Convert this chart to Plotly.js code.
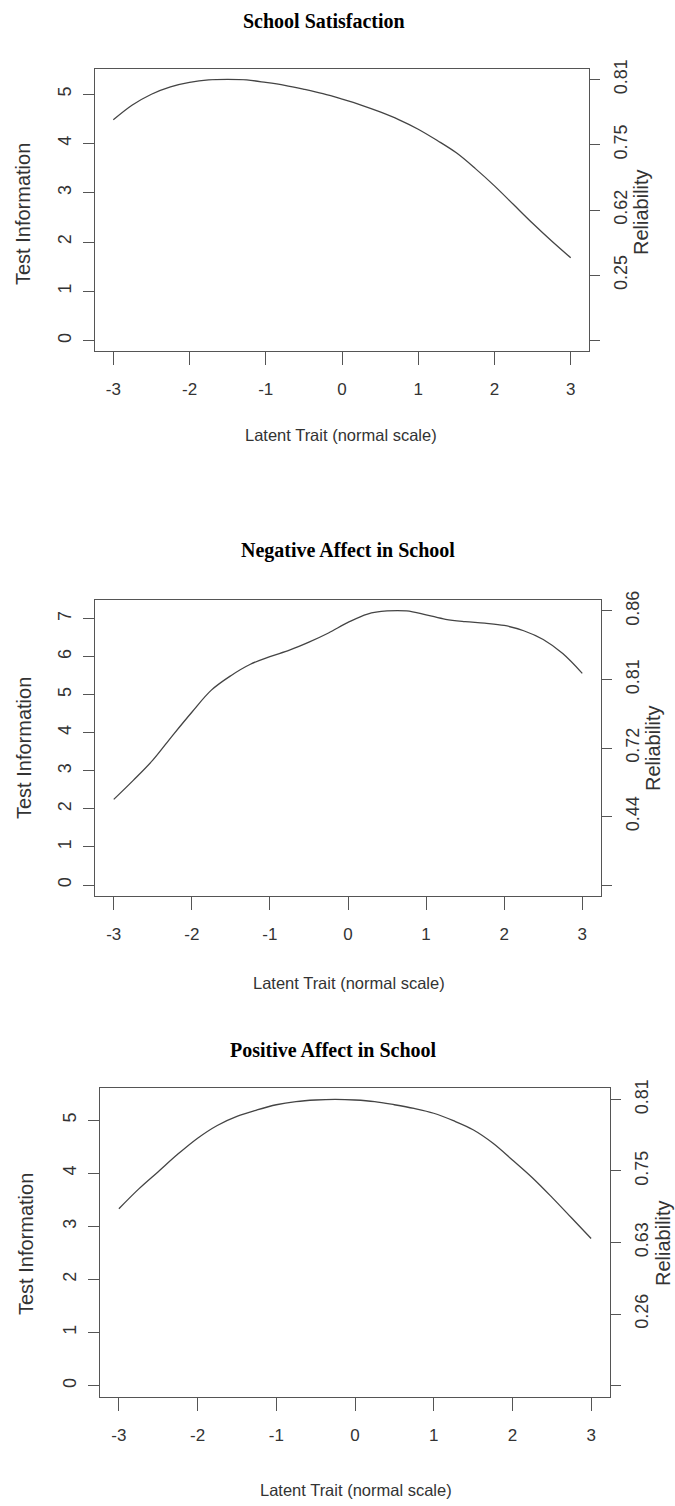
<!DOCTYPE html>
<html><head><meta charset="utf-8">
<script src="https://cdn.plot.ly/plotly-3.0.1.min.js"></script>
<style>html,body{margin:0;padding:0;background:#fff}#chart{width:675px;height:1506px}</style>
</head><body><div id="chart"></div>
<script>
// Latent trait grid
var theta = [-3,-2.75,-2.5,-2.25,-2,-1.75,-1.5,-1.25,-1,-0.75,-0.5,-0.25,0,0.25,0.5,0.75,1,1.25,1.5,1.75,2,2.25,2.5,2.75,3];
// Test information per scale
var infoSatisfaction = [4.48,4.78,5.00,5.15,5.24,5.29,5.30,5.29,5.24,5.18,5.10,5.01,4.90,4.78,4.64,4.48,4.29,4.06,3.81,3.49,3.14,2.76,2.38,2.02,1.68];
var infoNegative = [2.25,2.75,3.28,3.92,4.54,5.12,5.50,5.80,6.00,6.17,6.38,6.62,6.90,7.12,7.20,7.20,7.10,6.98,6.92,6.88,6.82,6.68,6.45,6.08,5.56];
var infoPositive = [3.33,3.70,4.03,4.36,4.66,4.90,5.07,5.19,5.29,5.35,5.38,5.39,5.38,5.35,5.29,5.22,5.13,4.99,4.82,4.57,4.25,3.92,3.55,3.16,2.77];
// Titles and tick labels
var titles = ["School Satisfaction","Negative Affect in School","Positive Affect in School"];
var xTicks = [-3,-2,-1,0,1,2,3];
var relLabels1 = ["","0.25","0.62","0.75","0.81"];
var relLabels2 = ["","0.44","0.72","0.81","0.86"];
var relLabels3 = ["","0.26","0.63","0.75","0.81"];

var W = 675, H = 1506;
var panels = [
  {info: infoSatisfaction, rel: relLabels1, box:[95,589,69,351], title:[324,21], xt:[341,435], yt:[23,214], rt:[641,212]},
  {info: infoNegative, rel: relLabels2, box:[95,601,600,896], title:[348,550], xt:[349,983], yt:[24,748], rt:[653,748]},
  {info: infoPositive, rel: relLabels3, box:[100,610,1088,1397], title:[333,1050], xt:[356,1490], yt:[26,1244], rt:[663,1243]}
];
var fx = function(p){return p/W;};
var fy = function(p){return 1-p/H;};
var sans = "Liberation Sans, Arial, sans-serif";
var serif = "Liberation Serif, Times New Roman, serif";
var txt = "#333";
var ax = "#555";

var data = [], layout = {
  width: W, height: H, margin:{l:0,r:0,t:0,b:0}, showlegend:false,
  paper_bgcolor:"#fff", plot_bgcolor:"#fff", annotations: []
};
panels.forEach(function(p, i){
  var n = i*2+1;
  var xa = i===0 ? "x" : "x"+(i+1);
  var yl = n===1 ? "y" : "y"+n, yr = "y"+(n+1);
  var mx = Math.max.apply(null, p.info);
  var rng = [-0.04*mx, 1.04*mx];
  var rv = [0,1,2,3,4].map(function(k){return mx*k/4;});
  data.push({x: theta, y: p.info, xaxis: xa, yaxis: yl, type:"scatter", mode:"lines",
    line:{color:"#444", width:1.3, shape:"spline", smoothing:1}, hoverinfo:"skip"});
  data.push({x: theta, y: p.info, xaxis: xa, yaxis: yr, type:"scatter", mode:"lines",
    line:{color:"rgba(0,0,0,0)", width:0}, hoverinfo:"skip"});
  var xk = "xaxis"+(i===0?"":(i+1));
  var ylk = "yaxis"+(n===1?"":n), yrk = "yaxis"+(n+1);
  layout[xk] = {domain:[fx(p.box[0]), fx(p.box[1])], anchor: yl,
    range:[-3.24,3.24], tickvals: xTicks, ticktext: xTicks.map(String), ticks:"outside", ticklen:13,
    tickcolor:ax, tickwidth:1, showline:true, mirror:true, linecolor:ax, linewidth:1,
    showgrid:false, zeroline:false, ticklabelstandoff:10,
    tickfont:{family:sans, size:17, color:txt}, fixedrange:true};
  layout[ylk] = {domain:[fy(p.box[3]), fy(p.box[2])], anchor: xa, range: rng,
    dtick:1, tick0:0, ticks:"outside", ticklen:11, tickcolor:ax, tickwidth:1,
    showline:true, mirror:true, linecolor:ax, linewidth:1, showgrid:false, zeroline:false,
    tickangle:-90, ticklabelstandoff:5, tickfont:{family:sans, size:18, color:txt}, fixedrange:true};
  layout[yrk] = {overlaying: yl, side:"right", anchor: xa, range: rng,
    tickvals: rv, ticktext: p.rel, ticks:"outside", ticklen:10, tickcolor:ax, tickwidth:1,
    showline:false, showgrid:false, zeroline:false, tickangle:-90, ticklabelstandoff:5,
    tickfont:{family:sans, size:18, color:txt}, fixedrange:true};
  layout.annotations.push({text:"<b>"+titles[i]+"</b>", xref:"paper", yref:"paper",
    x: fx(p.title[0]), y: fy(p.title[1]), xanchor:"center", yanchor:"middle", showarrow:false,
    font:{family:serif, size:20, color:"#000"}});
  layout.annotations.push({text:"Latent Trait (normal scale)", xref:"paper", yref:"paper",
    x: fx(p.xt[0]), y: fy(p.xt[1]), xanchor:"center", yanchor:"middle", showarrow:false,
    font:{family:sans, size:16.5, color:txt}});
  layout.annotations.push({text:"Test Information", xref:"paper", yref:"paper", textangle:-90,
    x: fx(p.yt[0]), y: fy(p.yt[1]), xanchor:"center", yanchor:"middle", showarrow:false,
    font:{family:sans, size:20, color:txt}});
  layout.annotations.push({text:"Reliability", xref:"paper", yref:"paper", textangle:-90,
    x: fx(p.rt[0]), y: fy(p.rt[1]), xanchor:"center", yanchor:"middle", showarrow:false,
    font:{family:sans, size:20, color:txt}});
});
Plotly.newPlot("chart", data, layout, {staticPlot:true});
</script></body></html>
